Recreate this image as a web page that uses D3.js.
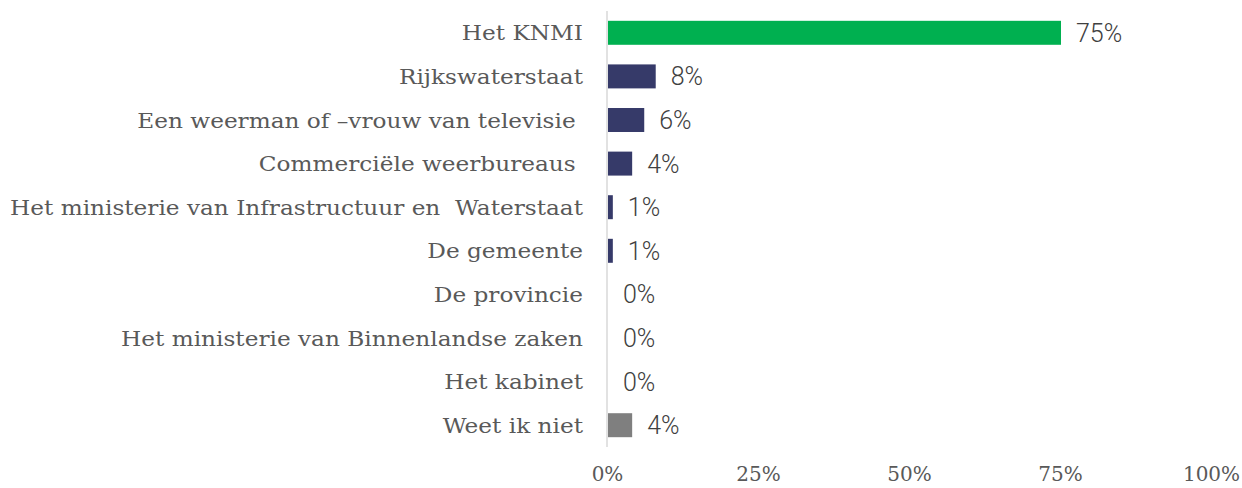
<!DOCTYPE html>
<html>
  <head>
    <meta charset="utf-8">
    <title>Bron weerinformatie</title>
    <script src="https://d3js.org/d3.v7.min.js"></script>
    <style>
      body { margin: 0; background: #fff; }
    </style>
  </head>
  <body>
    <div id="chart"></div>
    <script>
      // Data
      const categories = [
        "Het KNMI",
        "Rijkswaterstaat",
        "Een weerman of \u2013vrouw van televisie ",
        "Commerciële weerbureaus ",
        "Het ministerie van Infrastructuur en\u00a0 Waterstaat",
        "De gemeente",
        "De provincie",
        "Het ministerie van Binnenlandse zaken",
        "Het kabinet",
        "Weet ik niet"
      ];
      const values = [75, 7.9, 6, 4, 0.8, 0.8, 0, 0, 0, 4];
      const barColors = ["#00b050", "#363a69", "#363a69", "#363a69", "#363a69",
                         "#363a69", "#363a69", "#363a69", "#363a69", "#7f7f7f"];
      const ticks = [0, 25, 50, 75, 100];

      const width = 1242;
      const height = 488;

      const svg = d3.select("#chart")
        .append("svg")
        .attr("width", width)
        .attr("height", height);

      // scales
      const x = d3.scaleLinear()
        .domain([0, 100])
        .range([607, 1211]);
      const y = d3.scaleBand()
        .domain(categories)
        .range([11, 447])
        .paddingInner(0.45)
        .paddingOuter(0.225);

      // vertical axis line
      svg.append("line")
        .attr("x1", x(0)).attr("x2", x(0))
        .attr("y1", 11).attr("y2", 447)
        .attr("stroke", "#d9d9d9")
        .attr("stroke-width", 1.5);

      // bars
      svg.selectAll("rect.bar")
        .data(categories)
        .join("rect")
        .attr("class", "bar")
        .attr("x", x(0) + 1)
        .attr("y", d => y(d))
        .attr("width", (d, i) => Math.max(0, x(values[i]) - x(0)))
        .attr("height", y.bandwidth())
        .attr("fill", (d, i) => barColors[i]);

      // category labels
      const cats = svg.selectAll("text.cat")
        .data(categories)
        .join("text")
        .attr("class", "cat")
        .attr("x", 583)
        .attr("y", d => y(d) + y.bandwidth() / 2)
        .attr("dy", "0.36em")
        .attr("text-anchor", "end")
        .attr("font-family", "'DejaVu Serif', serif")
        .attr("font-size", 21)
        .attr("fill", "#595959")
        .style("white-space", "pre")
        .text(d => d);

      // widen the serif a bit so the longest label spans like the original
      const longest = d3.max(cats.nodes(), n => n.getComputedTextLength());
      const stretch = 573 / longest;
      cats.each(function() {
        const len = this.getComputedTextLength();
        d3.select(this)
          .attr("textLength", len * stretch)
          .attr("lengthAdjust", "spacingAndGlyphs");
      });

      // value labels
      svg.selectAll("text.val")
        .data(categories)
        .join("text")
        .attr("class", "val")
        .attr("x", (d, i) => x(values[i]) + 16)
        .attr("y", d => y(d) + y.bandwidth() / 2)
        .attr("dy", "0.36em")
        .attr("font-family", "Roboto, sans-serif")
        .attr("font-weight", 300)
        .attr("font-size", 25)
        .attr("fill", "#404040")
        .text((d, i) => Math.round(values[i]) + "%");

      // bottom axis (labels only)
      const xAxis = d3.axisBottom(x)
        .tickValues(ticks)
        .tickFormat(d => d + "%")
        .tickSize(0)
        .tickPadding(0);
      const gx = svg.append("g")
        .attr("transform", "translate(0,481)")
        .call(xAxis);
      gx.select(".domain").remove();
      gx.selectAll("text")
        .attr("dy", 0)
        .attr("font-family", "'DejaVu Serif', serif")
        .attr("font-size", 20)
        .attr("fill", "#595959");
    </script>
  </body>
</html>
